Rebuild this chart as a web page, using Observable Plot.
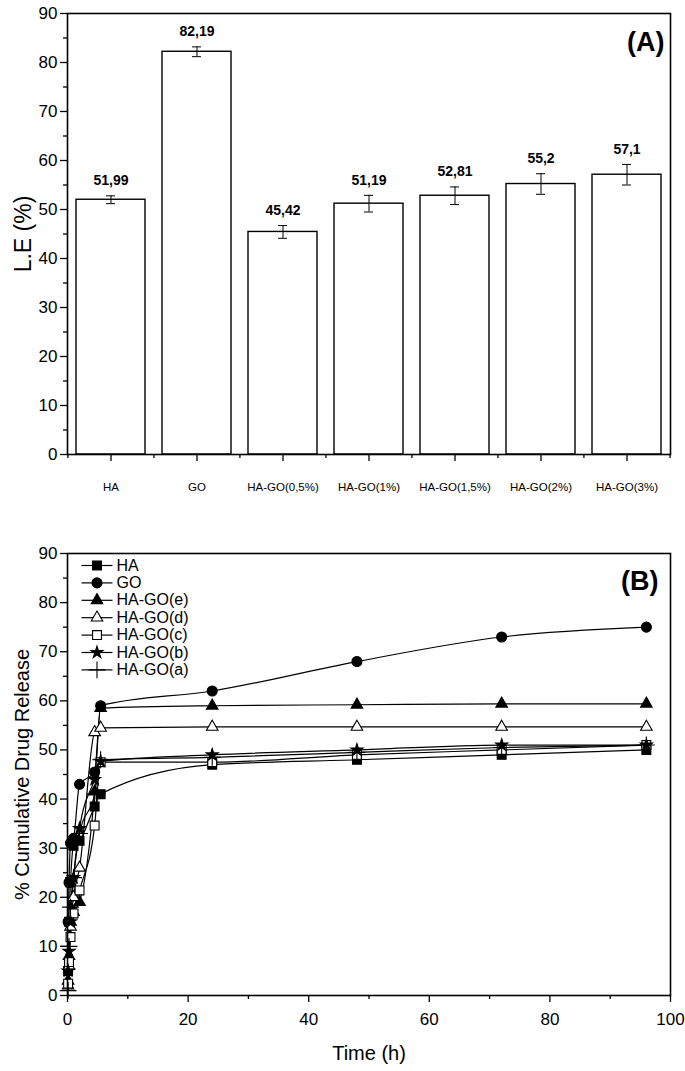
<!DOCTYPE html>
<html>
<head>
<meta charset="utf-8">
<script src="https://cdn.jsdelivr.net/npm/d3@7"></script>
<script src="https://cdn.jsdelivr.net/npm/@observablehq/plot@0.6"></script>
<style>
  body { margin: 0; background: #fff; }
  #chart { width: 685px; }
  #chart svg { display: block; }
</style>
</head>
<body>
<div id="chart"></div>
<script>
// ---- Panel A data ----
const categories = ["HA", "GO", "HA-GO(0,5%)", "HA-GO(1%)", "HA-GO(1,5%)", "HA-GO(2%)", "HA-GO(3%)"];
const loadingValues = [51.99, 82.19, 45.42, 51.19, 52.81, 55.2, 57.1];
const loadingErrors = [0.8, 1.0, 1.3, 1.7, 1.8, 2.1, 2.1];
const loadingLabels = ["51,99", "82,19", "45,42", "51,19", "52,81", "55,2", "57,1"];

// ---- Panel B data ----
const times = [0.1, 0.25, 0.5, 1, 2, 4.5, 5.5, 24, 48, 72, 96];
const seriesNames = ["HA", "GO", "HA-GO(e)", "HA-GO(d)", "HA-GO(c)", "HA-GO(b)", "HA-GO(a)"];
const releaseHA  = [5, 15, 23, 30.5, 31.5, 38.5, 41, 47, 48, 49, 50];
const releaseGO  = [15, 23, 31, 32, 43, 45.5, 59, 62, 68, 73, 75];
const releaseE   = [3, 8, 15, 17, 19, 41.5, 58.5, 59, 59.2, 59.4, 59.4];
const releaseD   = [2, 6, 14, 20, 26, 53.6, 54.5, 54.7, 54.7, 54.7, 54.7];
const releaseC   = [2.4, 6.8, 11.9, 16.7, 21.4, 34.6, 47.5, 47.5, 49, 50, 51];
const releaseB   = [5, 9, 15, 24, 34, 44, 47.7, 49, 50, 51, 51];
const releaseA   = [1, 10, 18, 24, 33, 41, 48, 48.5, 49.5, 50.5, 51];
const seriesSymbols = ["square", "circle", "triangle", "triangle", "square", "star", "plus"];
const seriesFills = ["black", "black", "black", "white", "white", "black", "none"];
const seriesRadius = [5, 5, 4.3, 4.3, 5, 3.8, 5.5];

const FONT = "'Liberation Sans', Arial, Helvetica, sans-serif";

// ---- Panel A ----
const barRows = categories.map((c, i) => ({
  cat: c, value: loadingValues[i], lo: loadingValues[i] - loadingErrors[i],
  hi: loadingValues[i] + loadingErrors[i], label: loadingLabels[i]
}));

const W = 685, mL = 67, mR = 15;
const step = (W - mL - mR) / categories.length;

const chartA = Plot.plot({
  width: W, height: 520,
  marginTop: 13, marginBottom: 66, marginLeft: mL, marginRight: mR,
  style: { fontFamily: FONT, background: "white", color: "black", overflow: "visible" },
  x: { domain: categories, paddingInner: 0.2, paddingOuter: 0.1, axis: null },
  y: { domain: [0, 90], axis: null },
  marks: [
    Plot.barY(barRows, { x: "cat", y: "value", fill: "white", stroke: "black", strokeWidth: 1.4 }),
    Plot.ruleX(barRows, { x: "cat", y1: "lo", y2: "hi", stroke: "black", strokeWidth: 1 }),
    Plot.tickY(barRows, { x: "cat", y: "lo", insetLeft: 30, insetRight: 30, strokeWidth: 1 }),
    Plot.tickY(barRows, { x: "cat", y: "hi", insetLeft: 30, insetRight: 30, strokeWidth: 1 }),
    Plot.text(barRows, { x: "cat", y: "hi", text: "label", dy: -15, fontSize: 14, fontWeight: "bold", lineAnchor: "middle" }),
    Plot.axisY({ ticks: d3.range(0, 91, 10), tickSize: 7, tickPadding: 3, fontSize: 17, label: null, strokeWidth: 1.3 }),
    Plot.axisY({ ticks: d3.range(5, 90, 10), tickSize: 4, text: null, label: null, strokeWidth: 1.3 }),
    Plot.axisX({ tickSize: 7, tickPadding: 21, fontSize: 11.5, label: null, strokeWidth: 1.3 }),
    Plot.axisX({ ticks: categories, tickSize: 4, text: null, label: null, dx: -step / 2, strokeWidth: 1.3 }),
    Plot.axisX({ ticks: [categories[categories.length - 1]], tickSize: 4, text: null, label: null, dx: step / 2, strokeWidth: 1.3 }),
    Plot.frame({ stroke: "black", strokeWidth: 1.6 }),
    Plot.text(["(A)"], { frameAnchor: "top-right", dx: -6, dy: 29, fontSize: 27, fontWeight: "bold", textAnchor: "end", lineAnchor: "middle" }),
    Plot.text(["L.E (%)"], { frameAnchor: "left", rotate: -90, dx: -44, fontSize: 23, textAnchor: "middle", lineAnchor: "middle" })
  ]
});

// ---- Panel B ----
const seriesValues = [releaseHA, releaseGO, releaseE, releaseD, releaseC, releaseB, releaseA];
const releaseRows = seriesNames.flatMap((s, i) =>
  times.map((t, j) => ({ series: s, t, v: seriesValues[i][j] })));

const lineSymbol = { draw(ctx) { ctx.moveTo(-15.5, 0); ctx.lineTo(15.5, 0); } };

const legendMarks = seriesNames.flatMap((s, i) => [
  Plot.dot([s], { frameAnchor: "top-left", dx: 29.5, dy: 12 + 17.4 * i, symbol: lineSymbol, fill: "none", stroke: "black", strokeWidth: 1.2, r: 5 }),
  Plot.dot([s], { frameAnchor: "top-left", dx: 29.5, dy: 12 + 17.4 * i, symbol: seriesSymbols[i], fill: seriesFills[i], stroke: "black", strokeWidth: 1.1, r: seriesRadius[i] }),
  Plot.text([s], { frameAnchor: "top-left", dx: 49, dy: 12 + 17.4 * i, text: d => d, textAnchor: "start", lineAnchor: "middle", fontSize: 16 })
]);

const chartB = Plot.plot({
  width: W, height: 551,
  marginTop: 33, marginBottom: 76, marginLeft: mL, marginRight: mR,
  style: { fontFamily: FONT, background: "white", color: "black", overflow: "visible" },
  x: { domain: [0, 100], axis: null },
  y: { domain: [0, 90], axis: null },
  marks: [
    Plot.line(releaseRows, { x: "t", y: "v", z: "series", curve: "monotone-x", stroke: "black", strokeWidth: 1.2 }),
    ...seriesNames.map((s, i) => Plot.dot(releaseRows.filter(d => d.series === s), {
      x: "t", y: "v", symbol: seriesSymbols[i], fill: seriesFills[i], stroke: "black", strokeWidth: 1.1,
      r: seriesRadius[i]
    })),
    Plot.axisY({ ticks: d3.range(0, 91, 10), tickSize: 7, tickPadding: 3, fontSize: 17, label: null, strokeWidth: 1.3 }),
    Plot.axisY({ ticks: d3.range(5, 90, 10), tickSize: 4, text: null, label: null, strokeWidth: 1.3 }),
    Plot.axisX({ ticks: d3.range(0, 101, 20), tickSize: 7, tickPadding: 10, fontSize: 17, label: null, strokeWidth: 1.3 }),
    Plot.axisX({ ticks: d3.range(10, 100, 20), tickSize: 4, text: null, label: null, strokeWidth: 1.3 }),
    Plot.frame({ stroke: "black", strokeWidth: 1.6 }),
    ...legendMarks,
    Plot.text(["(B)"], { frameAnchor: "top-right", dx: -12, dy: 28, fontSize: 27, fontWeight: "bold", textAnchor: "end", lineAnchor: "middle" }),
    Plot.text(["% Cumulative Drug Release"], { frameAnchor: "left", rotate: -90, dx: -45, fontSize: 20, textAnchor: "middle", lineAnchor: "middle" }),
    Plot.text(["Time (h)"], { frameAnchor: "bottom", dy: 58, fontSize: 20, lineAnchor: "middle" })
  ]
});

document.getElementById("chart").append(chartA, chartB);
</script>
</body>
</html>
